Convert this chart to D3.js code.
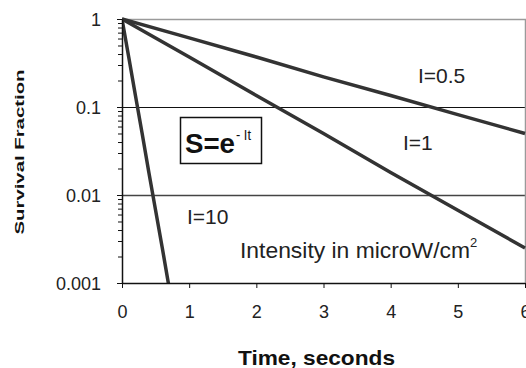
<!DOCTYPE html>
<html><head><meta charset="utf-8">
<script src="https://cdn.jsdelivr.net/npm/d3@7"></script>
<style>
html,body{margin:0;padding:0;background:#fff;}
svg{display:block;font-family:"Liberation Sans",Arial,sans-serif;}
</style></head>
<body><svg id="c" width="526" height="368"></svg>
<script>
// Data
const timeMain = [0, 1, 2, 3, 4, 5, 6];
const surviveI05 = [1, 0.61, 0.37, 0.22, 0.135, 0.082, 0.05];
const surviveI1 = [1, 0.37, 0.135, 0.05, 0.018, 0.0067, 0.0025];
const timeI10 = [0, 0.1, 0.2, 0.3, 0.4, 0.5, 0.6, 0.7];
const surviveI10 = [1, 0.37, 0.135, 0.05, 0.018, 0.0067, 0.0025, 0.0009];
const xTicks = [0, 1, 2, 3, 4, 5, 6];
const yTicks = [0.001, 0.01, 0.1, 1];
const yTickLabels = ["0.001", "0.01", "0.1", "1"];
const gridValues = [0.1, 0.01];

const svg = d3.select("#c");
const L = 122, R = 525, T = 19, B = 283;
const x = d3.scaleLinear().domain([0, 6]).range([L, R]);
const y = d3.scaleLog().domain([0.001, 1]).range([B, T]);

// gridlines
svg.append("g").selectAll("line").data(gridValues).join("line")
  .attr("x1", L).attr("x2", R)
  .attr("y1", d => Math.round(y(d)) + 0.5).attr("y2", d => Math.round(y(d)) + 0.5)
  .attr("stroke", (d, i) => i === 0 ? "#111" : "#444")
  .attr("stroke-width", (d, i) => i === 0 ? 1 : 1.5);

// top & right border
svg.append("path")
  .attr("d", `M${L},${T + 0.5}H${R + 0.5}V${B}`)
  .attr("fill", "none").attr("stroke", "#9a9a9a").attr("stroke-width", 1.5);

// curves
const clip = svg.append("clipPath").attr("id", "pc").append("rect")
  .attr("x", L).attr("y", T - 3).attr("width", R - L + 3).attr("height", B - T + 3);
const line = d3.line().x(d => x(d[0])).y(d => y(d[1]));
const series = [
  timeMain.map((t, i) => [t, surviveI05[i]]),
  timeMain.map((t, i) => [t, surviveI1[i]]),
  timeI10.map((t, i) => [t, surviveI10[i]])
];
svg.append("g").attr("clip-path", "url(#pc)").selectAll("path").data(series).join("path")
  .attr("d", line).attr("fill", "none").attr("stroke", "#333")
  .attr("stroke-width", 3.5).attr("stroke-linejoin", "round");

// y axis minor ticks
const minor = [];
[0.001, 0.01, 0.1].forEach(d => { for (let k = 2; k <= 9; k++) minor.push(d * k); });
svg.append("g").attr("transform", `translate(${L},0)`)
  .call(d3.axisLeft(y).tickValues(minor).tickSize(4).tickFormat(""))
  .call(g => g.select(".domain").remove())
  .call(g => g.selectAll("line").attr("stroke", "#111"));

// y axis major
const yAx = svg.append("g").attr("transform", `translate(${L},0)`)
  .call(d3.axisLeft(y).tickValues(yTicks).tickSize(5).tickSizeOuter(0).tickPadding(16)
    .tickFormat((d, i) => yTickLabels[i]));
yAx.select(".domain").attr("stroke", "#111").attr("stroke-width", 1.5);
yAx.selectAll("line").attr("stroke", "#111");
yAx.selectAll("text").attr("font-size", 18).attr("font-family", "Liberation Sans, Arial, sans-serif")
  .attr("fill", "#222").attr("dy", "0.36em");

// x axis
const xAx = svg.append("g").attr("transform", `translate(0,${B})`)
  .call(d3.axisBottom(x).tickValues(xTicks).tickSize(5).tickSizeOuter(0).tickPadding(17).tickFormat(d3.format("d")));
xAx.select(".domain").attr("stroke", "#111").attr("stroke-width", 1.5);
xAx.selectAll("line").attr("stroke", "#111");
xAx.selectAll("text").attr("font-size", 18).attr("font-family", "Liberation Sans, Arial, sans-serif")
  .attr("fill", "#222");

// axis titles
svg.append("text").attr("transform", "translate(24,152) rotate(-90)")
  .attr("text-anchor", "middle").attr("font-weight", "bold").attr("font-size", 12.5)
  .attr("textLength", 165).attr("lengthAdjust", "spacingAndGlyphs").attr("fill", "#111")
  .text("Survival Fraction");
svg.append("text").attr("x", 238).attr("y", 365)
  .attr("font-weight", "bold").attr("font-size", 21)
  .attr("textLength", 157).attr("lengthAdjust", "spacingAndGlyphs").attr("fill", "#111")
  .text("Time, seconds");

// labels inside plot
const lab = (tx, xx, yy) => svg.append("text").attr("x", xx).attr("y", yy)
  .attr("font-size", 21).attr("fill", "#222").text(tx);
lab("I=0.5", 418, 83);
lab("I=1", 403, 150);
lab("I=10", 187, 224);

const it = svg.append("text").attr("x", 240).attr("y", 258).attr("font-size", 22).attr("fill", "#222");
it.append("tspan").attr("textLength", 230).attr("lengthAdjust", "spacingAndGlyphs").text("Intensity in microW/cm");
svg.append("text").attr("x", 470).attr("y", 247).attr("font-size", 13).attr("fill", "#222").text("2");

// formula box
svg.append("rect").attr("x", 180.5).attr("y", 117.5).attr("width", 81).attr("height", 46)
  .attr("fill", "#fff").attr("stroke", "#111").attr("stroke-width", 1.5);
svg.append("text").attr("x", 185).attr("y", 153).attr("font-size", 28).attr("font-weight", "bold")
  .attr("textLength", 50).attr("lengthAdjust", "spacingAndGlyphs").attr("fill", "#111").text("S=e");
svg.append("text").attr("x", 236).attr("y", 140).attr("font-size", 14)
  .attr("textLength", 15).attr("lengthAdjust", "spacingAndGlyphs").attr("fill", "#111").text("- It");
</script></body></html>
